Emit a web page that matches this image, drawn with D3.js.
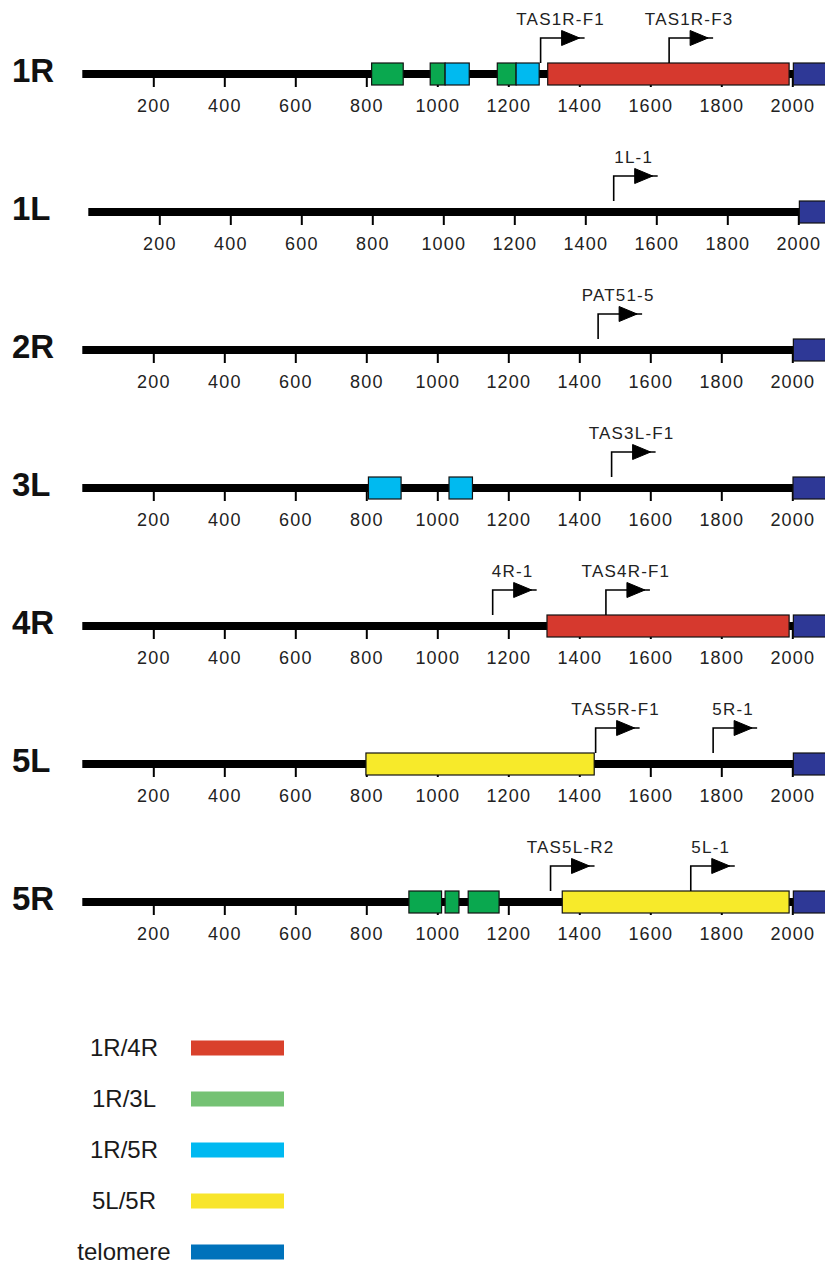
<!DOCTYPE html>
<html>
<head>
<meta charset="utf-8">
<script src="https://cdn.jsdelivr.net/npm/d3@7"></script>
<style>
  body { margin: 0; background: #fff; }
  svg { display: block; }
</style>
</head>
<body>
<svg id="chart"></svg>
<script>
const width = 825;
const height = 1264;

// chromosome ends, top to bottom
const chromosomes = ["1R", "1L", "2R", "3L", "4R", "5L", "5R"];
const tickValues = [200, 400, 600, 800, 1000, 1200, 1400, 1600, 1800, 2000];
const categories = ["1R/4R", "1R/3L", "1R/5R", "5L/5R", "telomere"];

// shared blocks: [chromosome, start, end, category]
const blocks = [
  ["1R", 815, 904, "1R/3L"],
  ["1R", 980, 1022, "1R/3L"],
  ["1R", 1022, 1090, "1R/5R"],
  ["1R", 1169, 1222, "1R/3L"],
  ["1R", 1222, 1287, "1R/5R"],
  ["1R", 1311, 1991, "1R/4R"],
  ["1R", 2003, 2120, "telomere"],
  ["1L", 2003, 2120, "telomere"],
  ["2R", 2003, 2120, "telomere"],
  ["3L", 806, 898, "1R/5R"],
  ["3L", 1033, 1099, "1R/5R"],
  ["3L", 2002, 2120, "telomere"],
  ["4R", 1309, 1991, "1R/4R"],
  ["4R", 2003, 2120, "telomere"],
  ["5L", 799, 1442, "5L/5R"],
  ["5L", 2003, 2120, "telomere"],
  ["5R", 920, 1012, "1R/3L"],
  ["5R", 1022, 1061, "1R/3L"],
  ["5R", 1087, 1174, "1R/3L"],
  ["5R", 1352, 1991, "5L/5R"],
  ["5R", 2003, 2120, "telomere"]
];

// primers: [chromosome, position, name]
const primers = [
  ["1R", 1291, "TAS1R-F1"],
  ["1R", 1653, "TAS1R-F3"],
  ["1L", 1480, "1L-1"],
  ["2R", 1453, "PAT51-5"],
  ["3L", 1491, "TAS3L-F1"],
  ["4R", 1156, "4R-1"],
  ["4R", 1475, "TAS4R-F1"],
  ["5L", 1446, "TAS5R-F1"],
  ["5L", 1777, "5R-1"],
  ["5R", 1319, "TAS5L-R2"],
  ["5R", 1714, "5L-1"]
];

const chartColor = d3.scaleOrdinal()
  .domain(categories)
  .range(["#d6392e", "#0aa84f", "#00baf0", "#f7ea2a", "#2e3896"]);
const legendColor = d3.scaleOrdinal()
  .domain(categories)
  .range(["#d9412c", "#75c274", "#00b9f1", "#f8e52b", "#0072bb"]);

// the 1L track sits a few pixels to the right in the original
const rowNudge = { "1L": 6 };

const x = d3.scaleLinear().domain([0, 2000]).range([82.3, 792.3]);
const y = d3.scalePoint().domain(chromosomes).range([74, 902]);

const svg = d3.select("svg#chart")
  .attr("width", width)
  .attr("height", height)
  .attr("viewBox", [0, 0, width, height])
  .style("font-family", "'Liberation Sans', Arial, sans-serif");

const row = svg.selectAll("g.row")
  .data(chromosomes)
  .join("g")
  .attr("class", "row")
  .attr("transform", (d) => `translate(${rowNudge[d] || 0},${y(d)})`);

// axis below each track
row.append("g")
  .attr("class", "axis")
  .each(function () {
    d3.select(this).call(
      d3.axisBottom(x)
        .tickValues(tickValues)
        .tickFormat(d3.format("d"))
        .tickSize(13)
        .tickPadding(12)
    );
  })
  .attr("font-family", null)
  .call((g) => g.select(".domain").remove())
  .call((g) => g.selectAll(".tick line").attr("stroke", "#000").attr("stroke-width", 2))
  .call((g) =>
    g.selectAll(".tick text")
      .attr("fill", "#222")
      .attr("font-size", 18)
      .attr("letter-spacing", 1.2)
  );

// the black backbone
row.append("line")
  .attr("x1", x(0))
  .attr("x2", x(2120))
  .attr("stroke", "#000")
  .attr("stroke-width", 8);

// chromosome names
row.append("text")
  .attr("x", (d) => 12 - (rowNudge[d] || 0))
  .attr("y", 8)
  .attr("font-size", 33)
  .attr("font-weight", "bold")
  .attr("fill", "#111")
  .text((d) => d);

// coloured blocks
row.selectAll("rect.block")
  .data((c) => blocks.filter((b) => b[0] === c))
  .join("rect")
  .attr("class", "block")
  .attr("x", (d) => x(d[1]))
  .attr("width", (d) => x(d[2]) - x(d[1]))
  .attr("y", -11)
  .attr("height", 22)
  .attr("fill", (d) => chartColor(d[3]))
  .attr("stroke", "#111")
  .attr("stroke-width", 1.2);

// primer arrows
const arrowTop = -36;
const primer = row.selectAll("g.primer")
  .data((c) => primers.filter((p) => p[0] === c))
  .join("g")
  .attr("class", "primer")
  .attr("transform", (d) => `translate(${x(d[1])},0)`);

primer.append("path")
  .attr("d", `M0,${-11}V${arrowTop}H44`)
  .attr("fill", "none")
  .attr("stroke", "#000")
  .attr("stroke-width", 1.6);

primer.append("path")
  .attr("d", `M21,${arrowTop - 7.5}L39,${arrowTop}L21,${arrowTop + 7.5}Z`)
  .attr("fill", "#000")
  .attr("stroke", "#000")
  .attr("stroke-linejoin", "round")
  .attr("stroke-width", 1);

primer.append("text")
  .attr("x", 20)
  .attr("y", -49)
  .attr("text-anchor", "middle")
  .attr("font-size", 17)
  .attr("letter-spacing", 1.2)
  .attr("fill", "#222")
  .text((d) => d[2]);

// legend
const legendY = d3.scalePoint().domain(categories).range([1048, 1252]);
const legend = svg.append("g")
  .selectAll("g")
  .data(categories)
  .join("g")
  .attr("transform", (d) => `translate(0,${legendY(d)})`);

legend.append("text")
  .attr("x", 124)
  .attr("y", 8)
  .attr("text-anchor", "middle")
  .attr("font-size", 24)
  .attr("fill", "#1a1a1a")
  .text((d) => d);

legend.append("rect")
  .attr("x", 191)
  .attr("y", -7.5)
  .attr("width", 93)
  .attr("height", 15)
  .attr("fill", (d) => legendColor(d));
</script>
</body>
</html>
